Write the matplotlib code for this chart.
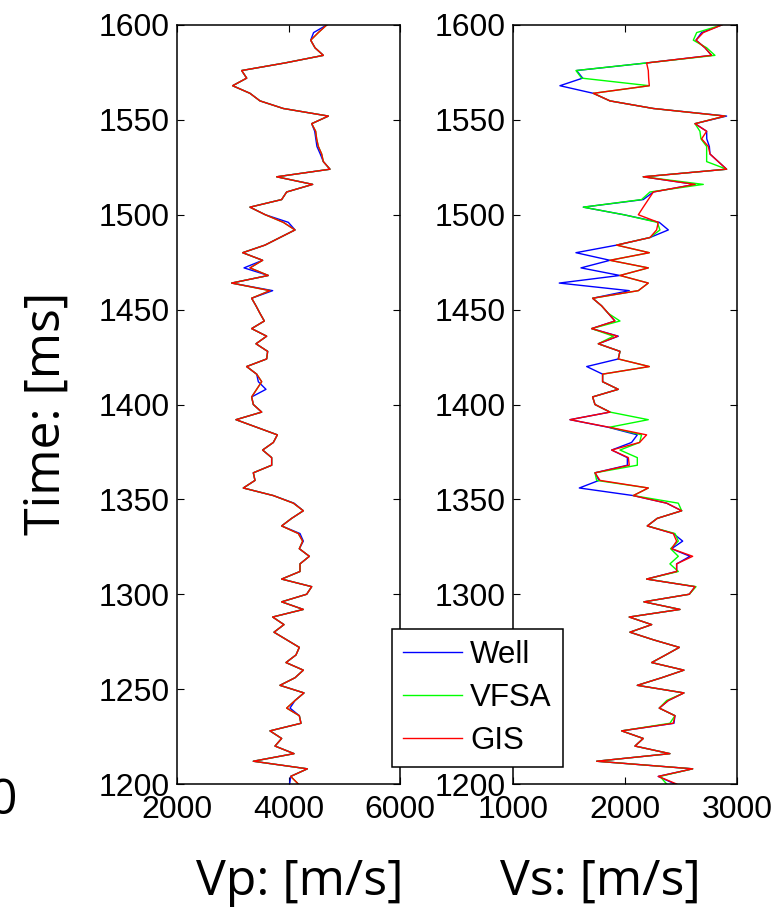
import numpy as np
import matplotlib
matplotlib.use('Agg')
import matplotlib.pyplot as plt

# === Data (4 ms sampling, top to bottom) === #

time = np.arange(1600, 1199, -4)

vp_well = [4685, 4450, 4398, 4475, 4625, 3937, 3160, 3250, 2998, 3309,
           3489, 3907, 4715, 4416, 4470, 4490, 4510, 4570, 4625, 4744,
           3788, 4433, 3967, 3877, 3309, 3584, 3997, 4117, 3847, 3578,
           3178, 3536, 3202, 3638, 2980, 3716, 3339, 3417, 3489, 3566,
           3339, 3608, 3417, 3626, 3608, 3249, 3429, 3459, 3596, 3339,
           3369, 3519, 3058, 3429, 3800, 3728, 3536, 3698, 3698, 3369,
           3399, 3190, 3728, 4099, 4266, 4057, 3877, 4206, 4266, 4194,
           4374, 4206, 4206, 3877, 4416, 4326, 3877, 4266, 3716, 3919,
           3740, 3967, 4194, 4134, 3955, 4266, 4117, 3847, 4278, 4117,
           4027, 4194, 4224, 3668, 3877, 3758, 4099, 3369, 4338, 4039,
           4020]

vp_gis = [4685, 4535, 4398, 4475, 4625, 3937, 3160, 3250, 2998, 3309,
          3489, 3907, 4715, 4416, 4487, 4505, 4535, 4595, 4625, 4744,
          3788, 4433, 3967, 3877, 3309, 3584, 3907, 4117, 3847, 3578,
          3178, 3536, 3309, 3638, 2980, 3668, 3339, 3417, 3489, 3566,
          3339, 3608, 3417, 3626, 3608, 3249, 3429, 3519, 3429, 3339,
          3369, 3519, 3058, 3429, 3800, 3728, 3536, 3698, 3698, 3369,
          3399, 3190, 3728, 4087, 4266, 4057, 3877, 4176, 4254, 4194,
          4374, 4206, 4206, 3877, 4416, 4326, 3877, 4266, 3716, 3919,
          3740, 3967, 4194, 4134, 3955, 4266, 4117, 3847, 4278, 4117,
          3967, 4194, 4224, 3668, 3877, 3758, 4099, 3369, 4338, 4039,
          4176]

# VFSA Vp lies under the GIS curve everywhere in the picture
vp_vfsa = list(vp_gis)

vs_well = [2863, 2684, 2634, 2714, 2773, 2193, 1568, 1622, 1419, 1717,
           1866, 2253, 2907, 2625, 2729, 2730, 2753, 2759, 2833, 2907,
           2163, 2625, 2253, 2163, 1628, 1990, 2306, 2387, 2223, 1925,
           1562, 1866, 1607, 1955, 1413, 2038, 1711, 1791, 1851, 1910,
           1702, 1940, 1762, 1955, 1940, 1658, 1800, 1800, 1940, 1711,
           1732, 1866, 1509, 1851, 2110, 2059, 1881, 2021, 2021, 1732,
           1768, 1592, 2074, 2372, 2506, 2288, 2199, 2431, 2515, 2416,
           2580, 2461, 2461, 2193, 2625, 2574, 2169, 2491, 2038, 2238,
           2044, 2253, 2485, 2363, 2238, 2526, 2327, 2110, 2526, 2387,
           2306, 2446, 2437, 1970, 2163, 2089, 2401, 1747, 2604, 2297,
           2446]

vs_vfsa = [2863, 2640, 2610, 2729, 2803, 2193, 1562, 1613, 2217, 1717,
           1866, 2253, 2893, 2625, 2669, 2678, 2729, 2729, 2729, 2907,
           2163, 2699, 2223, 2148, 1628, 1990, 2288, 2312, 2223, 1925,
           2217, 1866, 2208, 1955, 2208, 2119, 1711, 1791, 1851, 1955,
           1702, 1896, 1762, 1955, 1940, 2217, 1800, 1800, 1940, 1711,
           1732, 1866, 2208, 1860, 2148, 2130, 1955, 2110, 2110, 1732,
           1747, 2208, 2074, 2476, 2506, 2288, 2199, 2446, 2476, 2407,
           2476, 2401, 2476, 2193, 2634, 2574, 2169, 2491, 2038, 2238,
           2044, 2253, 2485, 2363, 2238, 2526, 2327, 2110, 2526, 2372,
           2306, 2446, 2401, 1970, 2163, 2089, 2401, 1747, 2604, 2312,
           2372]

vs_gis = [2863, 2699, 2634, 2714, 2773, 2193, 2208, 2211, 2217, 1717,
          1866, 2253, 2893, 2625, 2729, 2684, 2744, 2759, 2833, 2907,
          2163, 2625, 2253, 2208, 2163, 2119, 2297, 2282, 2223, 1925,
          2217, 1866, 2208, 1955, 2208, 2119, 1711, 1791, 1851, 1910,
          1702, 1934, 1762, 1955, 1940, 2217, 1800, 1800, 1940, 1711,
          1732, 1866, 1509, 1860, 2193, 2130, 1881, 2030, 2038, 1732,
          1777, 2208, 2074, 2372, 2506, 2288, 2199, 2431, 2461, 2416,
          2604, 2461, 2461, 2193, 2625, 2574, 2169, 2491, 2038, 2238,
          2044, 2253, 2485, 2363, 2238, 2526, 2327, 2110, 2526, 2387,
          2306, 2446, 2431, 1970, 2163, 2089, 2401, 1747, 2604, 2297,
          2461]

series_names = ['Well', 'VFSA', 'GIS']
series_colors = ['#0000ff', '#00ff00', '#ff0000']

time_ticks = [1200, 1250, 1300, 1350, 1400, 1450, 1500, 1550, 1600]
vp_ticks = [2000, 4000, 6000]
vs_ticks = [1000, 2000, 3000]

# === Figure === #

W, H = 782, 908
fig = plt.figure(figsize=(W / 100, H / 100), dpi=100)

tick_font = {'family': ['Liberation Sans', 'DejaVu Sans'], 'size': 23}
label_font = {'family': ['Open Sans', 'DejaVu Sans'], 'size': 36}


def make_axes(left, right, xlim, xticks):
    ax = fig.add_axes([left / W, (H - 784) / H, (right - left) / W, 759 / H])
    ax.set_xlim(*xlim)
    ax.set_ylim(1200, 1600)
    ax.set_xticks(xticks)
    ax.set_yticks(time_ticks)
    ax.set_xticklabels([str(v) for v in xticks], fontdict=tick_font)
    ax.set_yticklabels([str(v) for v in time_ticks], fontdict=tick_font)
    ax.tick_params(direction='in', length=5, width=0.8, top=True,
                   right=True, pad=5)
    ax.tick_params(axis='x', pad=8)
    for sp in ax.spines.values():
        sp.set_linewidth(1.1)
    return ax


ax1 = make_axes(177, 400, (2000, 6000), vp_ticks)
ax2 = make_axes(513, 737, (1000, 3000), vs_ticks)

for vals, name, col in zip([vp_well, vp_vfsa, vp_gis], series_names,
                           series_colors):
    ax1.plot(vals, time, color=col, lw=1.0, label=name)

for vals, name, col in zip([vs_well, vs_vfsa, vs_gis], series_names,
                           series_colors):
    ax2.plot(vals, time, color=col, lw=1.0, label=name)

leg = ax2.legend(loc='upper left', bbox_to_anchor=(392 / W, 1 - 629 / H),
                 bbox_transform=fig.transFigure, borderaxespad=0,
                 fancybox=False, framealpha=1, edgecolor='black',
                 prop={'family': ['Liberation Sans', 'DejaVu Sans'],
                       'size': 22.5},
                 handlelength=1.9, handletextpad=0.25, labelspacing=0.42,
                 borderpad=0.35)
leg.get_frame().set_linewidth(1.1)

# axis titles, placed where the original figure has them
fig.text(300 / W, 1 - 882 / H, 'Vp: [m/s]', ha='center', va='center',
         fontdict=label_font)
fig.text(600 / W, 1 - 882 / H, 'Vs: [m/s]', ha='center', va='center',
         fontdict=label_font)
fig.text(47 / W, 1 - 413 / H, 'Time: [ms]', ha='center', va='center',
         rotation=90, fontdict=label_font)

# last character of a label belonging to a panel cut off at the left border
fig.text(17 / W, 1 - 801 / H, '0', ha='right', va='center',
         fontdict=label_font)

fig.savefig('out.png', dpi=100)
